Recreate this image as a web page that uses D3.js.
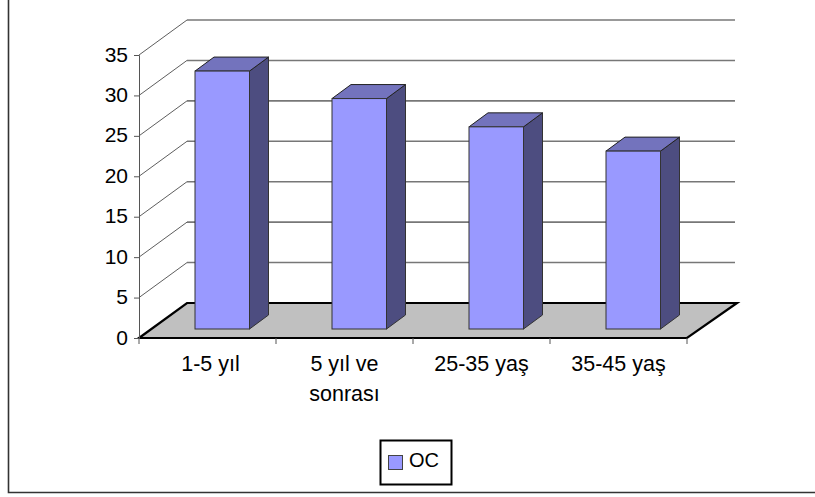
<!DOCTYPE html>
<html>
<head>
<meta charset="utf-8">
<script src="https://cdn.jsdelivr.net/npm/d3@7"></script>
<style>
  html, body { margin: 0; padding: 0; background: #fff; }
  svg { display: block; }
  text { font-family: "Liberation Sans", Arial, sans-serif; fill: #000; }
</style>
</head>
<body>
<script>
// values
const categories = ['1-5 yıl', '5 yıl ve|sonrası', '25-35 yaş', '35-45 yaş'];
const seriesName = 'OC';
const oc = [31.9, 28.5, 25, 22];
const yTicks = [0, 5, 10, 15, 20, 25, 30, 35];

const width = 815, height = 497;
const svg = d3.select('body').append('svg').attr('width', width).attr('height', height);

// outer frame, only left and bottom are inside the picture
svg.append('path')
    .attr('d', 'M8.5,0V492.5H815')
    .attr('fill', 'none').attr('stroke', '#333').attr('stroke-width', 1.6);

// front plane scales
const x = d3.scaleBand().domain(categories).range([139, 687]);
const y = d3.scaleLinear().domain([0, 35]).range([338, 55]);

// how far the back wall sits from the front plane
const backDx = 48, backDy = -35;
// bar box: offset from front plane, and depth
const barInset = 56, barW = 54.5;
const barDy = -9, depthDx = 19, depthDy = -14;

const line = d3.line();
const floor = [[139, y(0)], [139 + backDx, y(0) + backDy], [737, y(0) + backDy], [687, y(0)]];

// floor
svg.append('path')
    .attr('d', line(floor) + 'Z')
    .attr('fill', '#c0c0c0').attr('stroke', 'none');

// gridlines on the back wall and the slanted lines on the side wall
yTicks.forEach(function(t) {
    if (t > 0) {
        svg.append('line')
            .attr('x1', 139 + backDx).attr('x2', 735)
            .attr('y1', y(t) + backDy).attr('y2', y(t) + backDy)
            .attr('stroke', '#777').attr('stroke-width', 1.6);
        svg.append('line')
            .attr('x1', 139).attr('y1', y(t))
            .attr('x2', 139 + backDx).attr('y2', y(t) + backDy)
            .attr('stroke', '#333').attr('stroke-width', 0.8);
    }
});

// floor edges
svg.append('path')
    .attr('d', line(floor) + 'Z')
    .attr('fill', 'none').attr('stroke', '#000').attr('stroke-width', 2.2);

// y axis
const yAxis = d3.axisLeft(y).tickValues(yTicks).tickSize(5).tickPadding(6);
const gy = svg.append('g').attr('transform', 'translate(139,0)').call(yAxis);
gy.selectAll('path, line').attr('stroke', '#555');
gy.selectAll('text').attr('dy', '6px').style('font-size', '21px').style('font-family', '"Liberation Sans"');

// x axis
const gx = svg.append('g').attr('transform', 'translate(0,338)');
categories.concat([null]).forEach(function(c) {
    const px = c === null ? 687 : x(c);
    gx.append('line').attr('x1', px).attr('x2', px).attr('y1', 0).attr('y2', 6).attr('stroke', '#555');
});
categories.forEach(function(c, k) {
    c.split('|').forEach(function(s, i) {
        gx.append('text')
            .attr('x', x(c) + x.bandwidth() / 2 + (k === 0 ? 3 : 0))
            .attr('y', 33 + i * 30)
            .attr('text-anchor', 'middle')
            .style('font-size', '21.5px')
            .text(s);
    });
});

// bars
const bars = svg.append('g').selectAll('g').data(oc).join('g');
bars.each(function(v, i) {
    const g = d3.select(this);
    const x0 = x(categories[i]) + barInset;
    const x1 = x0 + barW;
    const yb = y(0) + barDy;
    const yt = y(v) + barDy;
    g.append('path') // side
        .attr('d', line([[x1, yb], [x1 + depthDx, yb + depthDy], [x1 + depthDx, yt + depthDy], [x1, yt]]) + 'Z')
        .attr('fill', '#4d4d80').attr('stroke', '#333').attr('stroke-width', 1);
    g.append('path') // top
        .attr('d', line([[x0, yt], [x0 + depthDx, yt + depthDy], [x1 + depthDx, yt + depthDy], [x1, yt]]) + 'Z')
        .attr('fill', '#7373bd').attr('stroke', '#222').attr('stroke-width', 1);
    g.append('rect') // front
        .attr('x', x0).attr('y', yt).attr('width', barW).attr('height', yb - yt)
        .attr('fill', '#9999ff').attr('stroke', '#333').attr('stroke-width', 1);
});

// legend
const legend = svg.append('g');
legend.append('rect').attr('x', 380.5).attr('y', 440.5).attr('width', 71).attr('height', 44)
    .attr('fill', '#fff').attr('stroke', '#000').attr('stroke-width', 2);
legend.append('rect').attr('x', 388.5).attr('y', 455.5).attr('width', 14).attr('height', 14)
    .attr('fill', '#9999ff').attr('stroke', '#444');
legend.append('text').attr('x', 409).attr('y', 467).style('font-size', '20px').text(seriesName);
</script>
</body>
</html>
